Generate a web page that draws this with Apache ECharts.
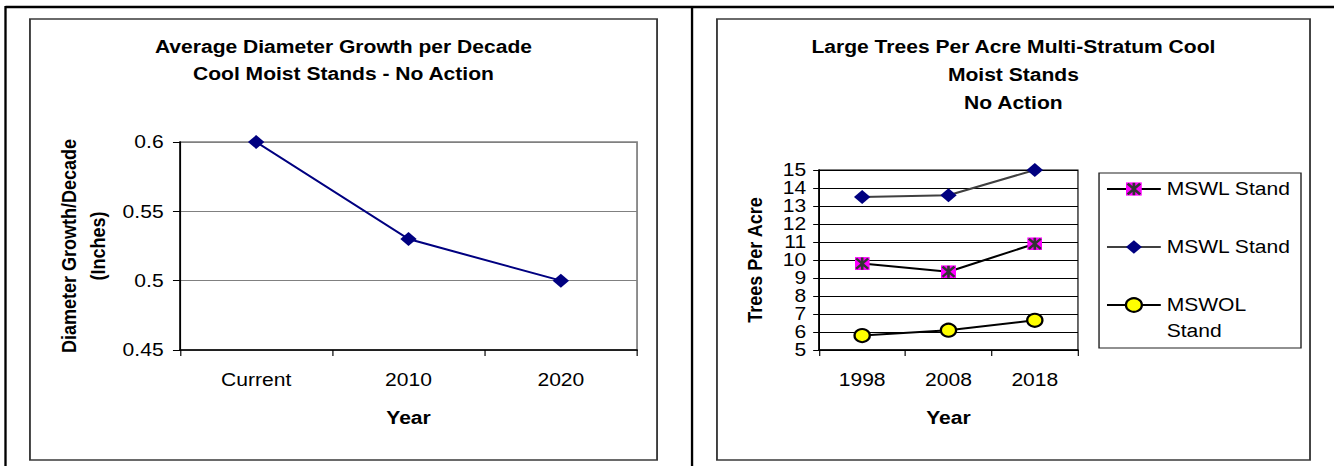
<!DOCTYPE html>
<html>
<head>
<meta charset="utf-8">
<script src="https://cdn.jsdelivr.net/npm/echarts@6/dist/echarts.min.js"></script>
<style>
  html, body { margin: 0; padding: 0; background: #fff; overflow: hidden; }
  /* charts are laid out on a 1140px-wide canvas and widened to the page */
  #chart { width: 1140px; height: 467px; transform: scaleX(1.170175); transform-origin: 0 0; }
</style>
</head>
<body>
<div id="chart"></div>
<script>
// ---- Left chart: average diameter growth per decade ----
const growthYears = ['Current', '2010', '2020'];
const diameterGrowth = [0.6, 0.53, 0.5];
const growthAxis = { min: 0.45, max: 0.6, interval: 0.05 };

// ---- Right chart: large trees per acre ----
const tpaYears = ['1998', '2008', '2018'];
const mswlStandA = [9.8, 9.35, 10.9];
const mswlStandB = [13.5, 13.6, 15.0];
const mswolStand = [5.8, 6.1, 6.65];
const tpaAxis = { min: 5, max: 15, interval: 1 };

const seriesNames = ['MSWL Stand (1)', 'MSWL Stand (2)', 'MSWOL Stand'];
// each legend entry is three text rows so the first printed row sits beside the icon
const legendText = ['\nMSWL Stand\n', '\nMSWL Stand\n', '\nMSWOL\nStand'];

const FONT = '"Liberation Sans", Arial, sans-serif';

// magenta square crossed by a dark asterisk
const starSquare = 'image://data:image/svg+xml;utf8,' + encodeURIComponent(
  "<svg xmlns='http://www.w3.org/2000/svg' width='14' height='14' viewBox='0 0 14 14'>" +
  "<rect x='0' y='0' width='14' height='14' fill='#FF00FF'/>" +
  "<path d='M1.5 1.5L12.5 12.5M12.5 1.5L1.5 12.5M7 0.5V13.5' stroke='#333333' stroke-width='2.4' fill='none'/>" +
  "</svg>");

const chart = echarts.init(document.getElementById('chart'), null, { renderer: 'svg' });

const tickLabel = { color: '#000', fontFamily: FONT, fontSize: 18 };
const axisName = { color: '#000', fontFamily: FONT, fontSize: 18, fontWeight: 'bold' };

chart.setOption({
  animation: false,
  backgroundColor: '#fff',
  title: [
    {
      text: 'Average Diameter Growth per Decade\nCool Moist Stands - No Action',
      left: 293.5, top: 33.5, textAlign: 'center', padding: 0,
      textStyle: { fontFamily: FONT, fontSize: 18, fontWeight: 'bold', color: '#000', lineHeight: 27 }
    },
    {
      text: 'Large Trees Per Acre Multi-Stratum Cool\nMoist Stands\nNo Action',
      left: 866, top: 33, textAlign: 'center', padding: 0,
      textStyle: { fontFamily: FONT, fontSize: 18, fontWeight: 'bold', color: '#000', lineHeight: 28 }
    }
  ],
  grid: [
    { left: 153.8, top: 142, width: 390.6, height: 208, show: true, borderColor: '#808080', borderWidth: 1.5, outerBoundsMode: 'none' },
    { left: 699.9, top: 170, width: 221.3, height: 180, show: true, borderColor: '#000', borderWidth: 1, outerBoundsMode: 'none' }
  ],
  xAxis: [
    {
      gridIndex: 0, type: 'category', data: growthYears, boundaryGap: true,
      name: 'Year', nameLocation: 'middle', nameGap: 59, nameTextStyle: axisName,
      axisLine: { lineStyle: { color: '#000', width: 1.5 } },
      axisTick: { show: true, inside: false, length: 6, lineStyle: { color: '#000' } },
      axisLabel: Object.assign({ margin: 21 }, tickLabel),
      splitLine: { show: false }
    },
    {
      gridIndex: 1, type: 'category', data: tpaYears, boundaryGap: true,
      name: 'Year', nameLocation: 'middle', nameGap: 59, nameTextStyle: axisName,
      axisLine: { lineStyle: { color: '#000', width: 1.5 } },
      axisTick: { show: true, inside: false, length: 6, lineStyle: { color: '#000' } },
      axisLabel: Object.assign({ margin: 21 }, tickLabel),
      splitLine: { show: false }
    }
  ],
  yAxis: [
    {
      gridIndex: 0, type: 'value', min: growthAxis.min, max: growthAxis.max, interval: growthAxis.interval,
      name: 'Diameter Growth/Decade\n(Inches)', nameLocation: 'middle', nameRotate: 90, nameGap: 58,
      nameTextStyle: Object.assign({ lineHeight: 25 }, axisName),
      axisLine: { show: true, lineStyle: { color: '#000', width: 1.5 } },
      axisTick: { show: true, inside: false, length: 6, lineStyle: { color: '#000' } },
      axisLabel: Object.assign({ margin: 14 }, tickLabel),
      splitLine: { show: true, lineStyle: { color: '#808080', width: 1 } }
    },
    {
      gridIndex: 1, type: 'value', min: tpaAxis.min, max: tpaAxis.max, interval: tpaAxis.interval,
      name: 'Trees Per Acre', nameLocation: 'middle', nameRotate: 90, nameGap: 46,
      nameTextStyle: axisName,
      axisLine: { show: true, lineStyle: { color: '#000', width: 1.5 } },
      axisTick: { show: true, inside: false, length: 5, lineStyle: { color: '#000' } },
      axisLabel: Object.assign({ margin: 11 }, tickLabel),
      splitLine: { show: true, lineStyle: { color: '#000', width: 1 } }
    }
  ],
  legend: {
    orient: 'vertical', left: 945, top: 150, padding: 0,
    itemWidth: 46, itemHeight: 17, itemGap: -20,
    data: seriesNames,
    formatter: name => legendText[seriesNames.indexOf(name)],
    textStyle: { fontFamily: FONT, fontSize: 18, color: '#000', lineHeight: 26 },
    selectedMode: false
  },
  graphic: [
    // page rules
    { type: 'line', shape: { x1: 4.7, y1: 7, x2: 1140, y2: 7 }, style: { stroke: '#000', lineWidth: 2.5 }, silent: true },
    { type: 'line', shape: { x1: 4.7, y1: 6, x2: 4.7, y2: 466 }, style: { stroke: '#000', lineWidth: 2 }, silent: true },
    { type: 'line', shape: { x1: 591.4, y1: 6, x2: 591.4, y2: 466 }, style: { stroke: '#000', lineWidth: 2 }, silent: true },
    // chart frames
    { type: 'rect', shape: { x: 25.6, y: 19, width: 535.9, height: 441 }, style: { fill: 'none', stroke: '#3a3a3a', lineWidth: 1.6 }, silent: true },
    { type: 'rect', shape: { x: 612.7, y: 19, width: 506.8, height: 441 }, style: { fill: 'none', stroke: '#3a3a3a', lineWidth: 1.6 }, silent: true },
    // legend box
    { type: 'rect', shape: { x: 939.2, y: 173, width: 172.6, height: 175 }, style: { fill: 'none', stroke: '#222', lineWidth: 1.2 }, silent: true }
  ],
  series: [
    {
      name: 'Diameter Growth', type: 'line', xAxisIndex: 0, yAxisIndex: 0,
      data: diameterGrowth,
      symbol: 'diamond', symbolSize: 14,
      itemStyle: { color: '#000080' },
      lineStyle: { color: '#000080', width: 2 },
      emphasis: { disabled: true }
    },
    {
      name: seriesNames[0], type: 'line', xAxisIndex: 1, yAxisIndex: 1,
      data: mswlStandA,
      symbol: starSquare, symbolSize: 13,
      itemStyle: { color: '#FF00FF' },
      lineStyle: { color: '#000', width: 2 },
      emphasis: { disabled: true }
    },
    {
      name: seriesNames[1], type: 'line', xAxisIndex: 1, yAxisIndex: 1,
      data: mswlStandB,
      symbol: 'diamond', symbolSize: 14,
      itemStyle: { color: '#000080' },
      lineStyle: { color: '#404040', width: 2 },
      emphasis: { disabled: true }
    },
    {
      name: seriesNames[2], type: 'line', xAxisIndex: 1, yAxisIndex: 1,
      data: mswolStand,
      symbol: 'circle', symbolSize: 13,
      itemStyle: { color: '#FFFF00', borderColor: '#000', borderWidth: 2 },
      lineStyle: { color: '#000', width: 2 },
      emphasis: { disabled: true }
    }
  ]
});
</script>
</body>
</html>
